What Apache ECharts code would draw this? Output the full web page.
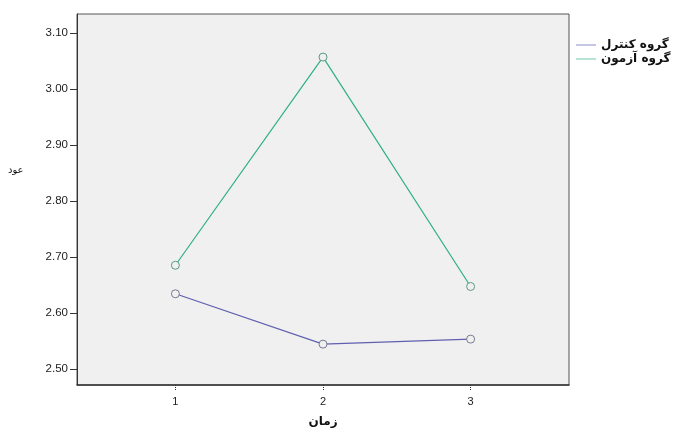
<!DOCTYPE html>
<html>
<head>
<meta charset="utf-8">
<script src="https://cdn.jsdelivr.net/npm/echarts@6/dist/echarts.min.js"></script>
<style>html,body{margin:0;padding:0;background:#fff}#c{width:679px;height:433px}</style>
</head>
<body>
<div id="c"></div>
<script>
const times = [1, 2, 3];
const controlName = 'گروه کنترل';
const testName = 'گروه آزمون';
const controlValues = [2.634, 2.544, 2.553];
const testValues = [2.685, 3.057, 2.647];
const yTicks = [2.50, 2.60, 2.70, 2.80, 2.90, 3.00, 3.10];
const xTicks = [1, 2, 3];
const controlColor = '#6060b0';
const testColor = '#2eb080';

const chart = echarts.init(document.getElementById('c'));
const mk = (vals) => times.map((t, i) => [t, vals[i]]);
chart.setOption({
  animation: false,
  backgroundColor: '#ffffff',
  textStyle: {fontFamily: 'Liberation Sans, Arial, sans-serif'},
  grid: {left: 77, top: 14, right: 110, bottom: 44, show: true, backgroundColor: '#f0f0f0', borderColor: '#555', borderWidth: 1},
  legend: {
    orient: 'vertical', left: 571, top: 34, itemGap: 2, itemWidth: 20, itemHeight: 1,
    icon: 'rect',
    textStyle: {fontSize: 12, fontWeight: 'bold', color: '#111', fontFamily: 'DejaVu Sans, sans-serif'},
    data: [
      {name: controlName, itemStyle: {color: '#8a8ac8', borderWidth: 0}},
      {name: testName, itemStyle: {color: '#70c8a8', borderWidth: 0}}
    ]
  },
  graphic: [{
    type: 'text', left: 8, top: 165,
    style: {text: 'عود', fontSize: 10, fill: '#111', fontFamily: 'DejaVu Sans, sans-serif'}
  }],
  xAxis: {
    type: 'value', min: 1 - 2/3, max: 3 + 2/3,
    name: 'زمان', nameLocation: 'middle', nameGap: 31,
    nameTextStyle: {fontSize: 12, fontWeight: 'bold', color: '#111', fontFamily: 'DejaVu Sans, sans-serif'},
    axisLine: {lineStyle: {color: '#333', width: 1.5}},
    axisTick: {show: true, customValues: xTicks, length: 5, lineStyle: {color: '#333', type: 'dotted'}},
    axisLabel: {customValues: xTicks, fontSize: 11, color: '#222', margin: 11},
    splitLine: {show: false}
  },
  yAxis: {
    type: 'value', min: 2.471, max: 3.134,
    axisLine: {show: true, lineStyle: {color: '#333', width: 1}},
    axisTick: {show: true, customValues: yTicks, length: 7, lineStyle: {color: '#333'}},
    axisLabel: {customValues: yTicks, fontSize: 11.5, color: '#222', margin: 9, formatter: v => v.toFixed(2)},
    splitLine: {show: false}
  },
  series: [
    {name: controlName, type: 'line', data: mk(controlValues), symbol: 'circle', symbolSize: 8,
     lineStyle: {color: controlColor, width: 1.2}, color: controlColor,
     itemStyle: {color: '#f0f0f0', borderColor: '#7a7a90', borderWidth: 1}},
    {name: testName, type: 'line', data: mk(testValues), symbol: 'circle', symbolSize: 8,
     lineStyle: {color: testColor, width: 1.2}, color: testColor,
     itemStyle: {color: '#f0f0f0', borderColor: '#5a9a80', borderWidth: 1}}
  ]
});
</script>
</body>
</html>
